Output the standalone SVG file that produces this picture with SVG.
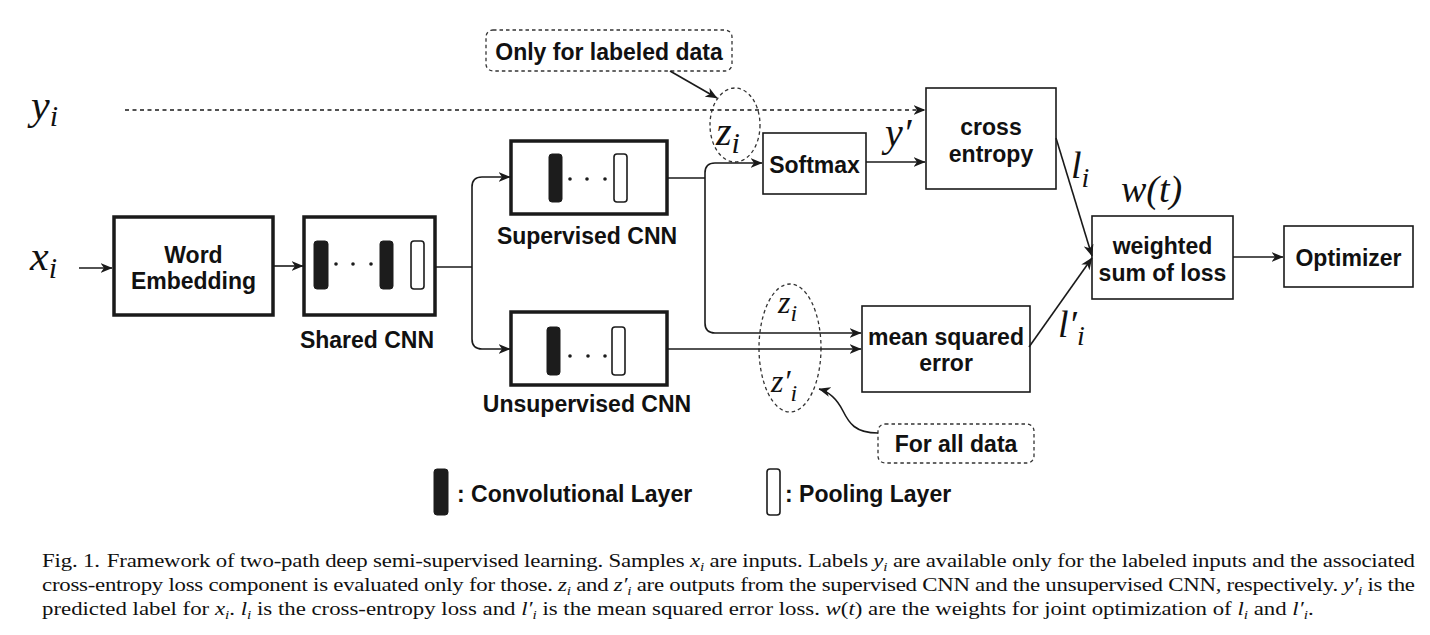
<svg xmlns="http://www.w3.org/2000/svg" width="1430" height="635" viewBox="0 0 1430 635">
<style>
  .bg{fill:#ffffff}
  .thick{fill:#ffffff;stroke:#1a1a1a;stroke-width:3.5}
  .thin{fill:#ffffff;stroke:#1a1a1a;stroke-width:1.6}
  .dbox{fill:#ffffff;stroke:#333;stroke-width:1.3;stroke-dasharray:3.5 3}
  .dell{fill:none;stroke:#333;stroke-width:1.3;stroke-dasharray:3.5 3}
  .conv{fill:#1c1c1c;stroke:#1c1c1c;stroke-width:1}
  .pool{fill:#ffffff;stroke:#1c1c1c;stroke-width:1.6}
  .dot{fill:#1c1c1c}
  .lbl{font-family:"Liberation Sans",Arial,sans-serif;font-weight:bold;font-size:23px;fill:#111;text-anchor:middle}
  .lgd{font-family:"Liberation Sans",Arial,sans-serif;font-weight:bold;font-size:23px;fill:#111}
  .math{font-family:"Liberation Serif","Times New Roman",serif;font-style:italic;fill:#111}
  .cap{font-family:"Liberation Serif","Times New Roman",serif;font-size:19.5px;fill:#111}
  .mi{font-style:italic}
  .sb{font-style:italic;font-size:13px}
  .conn path{fill:none;stroke:#1a1a1a;stroke-width:1.6}
  .conn path.dash{stroke-dasharray:4 3.5;stroke-width:1.4}
</style>
<defs>
  <marker id="arr" viewBox="0 0 12 10" refX="11.5" refY="5" markerWidth="12" markerHeight="10" markerUnits="userSpaceOnUse" orient="auto">
    <path d="M0,0 L12,5 L0,10 L3.5,5 Z" fill="#1a1a1a"/>
  </marker>
</defs>
<rect class="bg" x="0" y="0" width="1430" height="635"/>

<!-- math inputs -->
<g id="label-y">
  <text class="math" x="31" y="119" font-size="42">y<tspan font-size="30" dy="7">i</tspan></text>
</g>
<g id="label-x">
  <text class="math" x="30" y="270" font-size="42">x<tspan font-size="30" dy="8">i</tspan></text>
</g>

<!-- nodes -->
<g id="word-embedding">
  <rect class="thick" x="114" y="217" width="159" height="98"/>
  <text class="lbl" x="193.5" y="263">Word</text>
  <text class="lbl" x="193.5" y="289">Embedding</text>
</g>

<g id="shared-cnn">
  <rect class="thick" x="304" y="217" width="131" height="98"/>
  <rect class="conv" x="314" y="241" width="14" height="48" rx="3"/>
  <circle class="dot" cx="336" cy="264" r="1.8"/>
  <circle class="dot" cx="353" cy="264" r="1.8"/>
  <circle class="dot" cx="371" cy="264" r="1.8"/>
  <rect class="conv" x="380" y="241" width="13" height="48" rx="3"/>
  <rect class="pool" x="411" y="241" width="13" height="48" rx="3"/>
  <text class="lbl" x="367" y="348">Shared CNN</text>
</g>

<g id="supervised-cnn">
  <rect class="thick" x="511" y="141" width="156" height="73"/>
  <rect class="conv" x="549" y="154" width="13" height="48" rx="3"/>
  <circle class="dot" cx="570" cy="179" r="1.8"/>
  <circle class="dot" cx="587" cy="179" r="1.8"/>
  <circle class="dot" cx="605" cy="179" r="1.8"/>
  <rect class="pool" x="614" y="154" width="13" height="48" rx="3"/>
  <text class="lbl" x="587" y="244">Supervised CNN</text>
</g>

<g id="unsupervised-cnn">
  <rect class="thick" x="511" y="312" width="156" height="73"/>
  <rect class="conv" x="547" y="327" width="13" height="48" rx="3"/>
  <circle class="dot" cx="570" cy="356" r="1.8"/>
  <circle class="dot" cx="588" cy="356" r="1.8"/>
  <circle class="dot" cx="605" cy="356" r="1.8"/>
  <rect class="pool" x="612" y="327" width="13" height="48" rx="3"/>
  <text class="lbl" x="587" y="412">Unsupervised CNN</text>
</g>

<g id="only-labeled-note">
  <rect class="dbox" x="486" y="30" width="246" height="41" rx="7"/>
  <text class="lbl" x="609" y="60">Only for labeled data</text>
</g>

<g id="zi-ellipse-1">
  <ellipse class="dell" cx="735" cy="125" rx="25" ry="37"/>
  <text class="math" x="716" y="145" font-size="40">z<tspan font-size="30" dy="8">i</tspan></text>
</g>

<g id="softmax">
  <rect class="thin" x="763" y="133" width="103" height="61"/>
  <text class="lbl" x="814.5" y="173">Softmax</text>
</g>

<g id="label-yprime">
  <text class="math" x="885" y="146" font-size="40">y′</text>
</g>

<g id="cross-entropy">
  <rect class="thin" x="926" y="88" width="130" height="101"/>
  <text class="lbl" x="991" y="135">cross</text>
  <text class="lbl" x="991" y="162">entropy</text>
</g>

<g id="label-li">
  <text class="math" x="1071" y="178" font-size="38">l<tspan font-size="28" dy="9">i</tspan></text>
</g>

<g id="label-wt">
  <text class="math" x="1121" y="202" font-size="38">w(t)</text>
</g>

<g id="weighted-sum">
  <rect class="thin" x="1092" y="216" width="141" height="83"/>
  <text class="lbl" x="1162.5" y="254">weighted</text>
  <text class="lbl" x="1162.5" y="281">sum of loss</text>
</g>

<g id="optimizer">
  <rect class="thin" x="1284" y="226" width="129" height="61"/>
  <text class="lbl" x="1348.5" y="266">Optimizer</text>
</g>

<g id="zi-ellipse-2">
  <ellipse class="dell" cx="790" cy="348" rx="31" ry="64"/>
  <text class="math" x="778" y="313" font-size="32">z<tspan font-size="24" dy="8">i</tspan></text>
  <text class="math" x="771" y="392" font-size="32">z′<tspan font-size="24" dy="9">i</tspan></text>
</g>

<g id="mse">
  <rect class="thin" x="862" y="306" width="168" height="86"/>
  <text class="lbl" x="946" y="345">mean squared</text>
  <text class="lbl" x="946" y="371">error</text>
</g>

<g id="label-liprime">
  <text class="math" x="1058" y="337" font-size="38">l′<tspan font-size="28" dy="8">i</tspan></text>
</g>

<g id="all-data-note">
  <rect class="dbox" x="878" y="424" width="156" height="39" rx="7"/>
  <text class="lbl" x="956" y="452">For all data</text>
</g>

<!-- legend -->
<g id="legend">
  <rect class="conv" x="434" y="469" width="14" height="46" rx="3"/>
  <text class="lgd" x="457" y="502">: Convolutional Layer</text>
  <rect class="pool" x="767" y="469" width="13" height="46" rx="3"/>
  <text class="lgd" x="785" y="502">: Pooling Layer</text>
</g>

<!-- connectors -->
<g id="connectors" class="conn">
  <path d="M79,268 H112" marker-end="url(#arr)"/>
  <path d="M273,266 H303" marker-end="url(#arr)"/>
  <path d="M435,267 H472"/>
  <path d="M472,267 V187 Q472,177 482,177 H510" marker-end="url(#arr)"/>
  <path d="M472,267 V339 Q472,349 482,349 H510" marker-end="url(#arr)"/>
  <path d="M667,178 H705"/>
  <path d="M705,178 V173 Q705,163 715,163 H762" marker-end="url(#arr)"/>
  <path d="M705,178 V323 Q705,333 715,333 H861" marker-end="url(#arr)"/>
  <path d="M667,349 H861" marker-end="url(#arr)"/>
  <path d="M866,162 H925" marker-end="url(#arr)"/>
  <path class="dash" d="M125,110 H925" marker-end="url(#arr)"/>
  <path d="M1056,138 L1092,256" marker-end="url(#arr)"/>
  <path d="M1029,347 L1092,258" marker-end="url(#arr)"/>
  <path d="M1233,257 H1283" marker-end="url(#arr)"/>
  <path d="M670,71 L717,98" marker-end="url(#arr)"/>
  <path d="M878,433 C855,433 849,423 843,411 C837,399 830,392 819,389" marker-end="url(#arr)"/>
</g>

<!-- caption -->
<g id="caption" transform="translate(42,0) scale(1.17,1)">
  <text class="cap" x="0" y="567" textLength="1173.5" lengthAdjust="spacing">Fig. 1.<tspan dx="6">Framework of two-path deep semi-supervised learning. Samples </tspan><tspan class="mi">x</tspan><tspan class="sb" dy="4">i</tspan><tspan dy="-4"> are inputs. Labels </tspan><tspan class="mi">y</tspan><tspan class="sb" dy="4">i</tspan><tspan dy="-4"> are available only for the labeled inputs and the associated</tspan></text>
  <text class="cap" x="0" y="591" textLength="1173.5" lengthAdjust="spacing">cross-entropy loss component is evaluated only for those. <tspan class="mi">z</tspan><tspan class="sb" dy="4">i</tspan><tspan dy="-4"> and </tspan><tspan class="mi">z′</tspan><tspan class="sb" dy="4">i</tspan><tspan dy="-4"> are outputs from the supervised CNN and the unsupervised CNN, respectively. </tspan><tspan class="mi">y′</tspan><tspan class="sb" dy="4">i</tspan><tspan dy="-4"> is the</tspan></text>
  <text class="cap" x="0" y="615">predicted label for <tspan class="mi">x</tspan><tspan class="sb" dy="4">i</tspan><tspan dy="-4">. </tspan><tspan class="mi">l</tspan><tspan class="sb" dy="4">i</tspan><tspan dy="-4"> is the cross-entropy loss and </tspan><tspan class="mi">l′</tspan><tspan class="sb" dy="4">i</tspan><tspan dy="-4"> is the mean squared error loss. </tspan><tspan class="mi">w</tspan>(<tspan class="mi">t</tspan>) are the weights for joint optimization of <tspan class="mi">l</tspan><tspan class="sb" dy="4">i</tspan><tspan dy="-4"> and </tspan><tspan class="mi">l′</tspan><tspan class="sb" dy="4">i</tspan><tspan dy="-4">.</tspan></text>
</g>
</svg>
